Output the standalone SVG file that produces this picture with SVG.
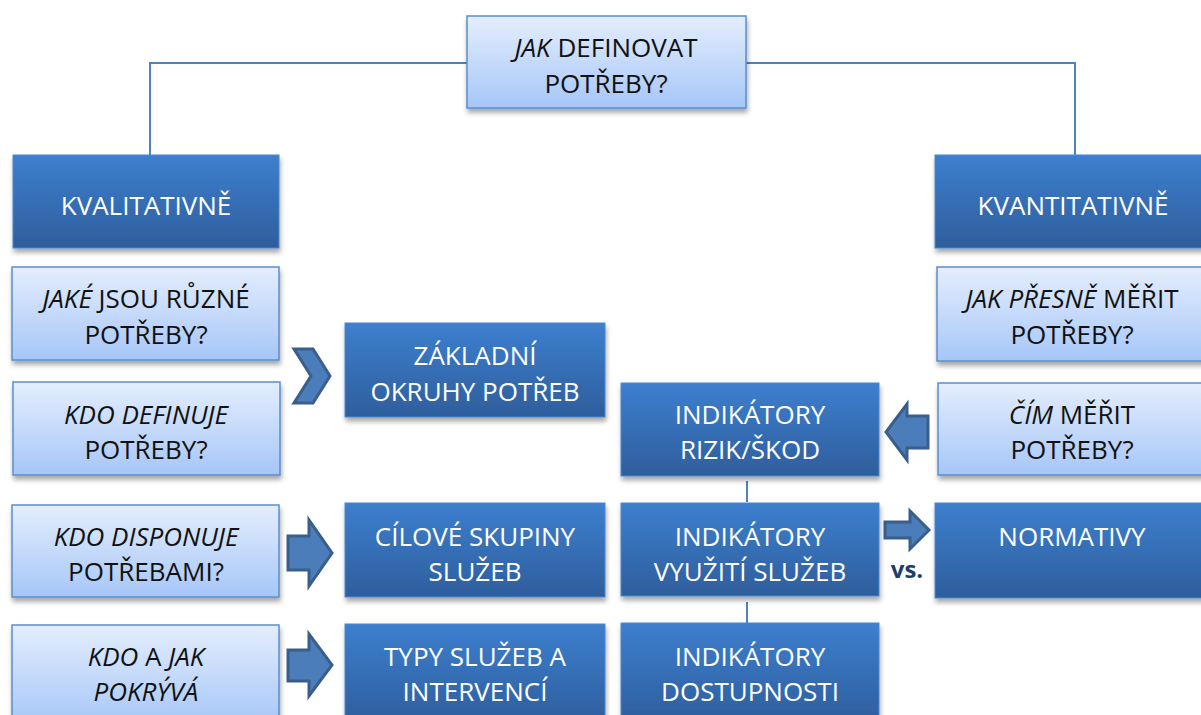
<svg xmlns="http://www.w3.org/2000/svg" width="1201" height="715" viewBox="0 0 1201 715">
<defs>
<linearGradient id="gDark" x1="0" y1="0" x2="0" y2="1">
<stop offset="0" stop-color="#3D7FCF"/>
<stop offset="1" stop-color="#2E5E9C"/>
</linearGradient>
<linearGradient id="gLight" x1="0" y1="0" x2="0" y2="1">
<stop offset="0" stop-color="#E4EEFD"/>
<stop offset="1" stop-color="#A6C6F8"/>
</linearGradient>
<filter id="sh" x="-10%" y="-10%" width="120%" height="130%">
<feGaussianBlur in="SourceAlpha" stdDeviation="2.5"/>
<feOffset dx="1" dy="4" result="b"/>
<feComponentTransfer><feFuncA type="linear" slope="0.35"/></feComponentTransfer>
<feMerge><feMergeNode/><feMergeNode in="SourceGraphic"/></feMerge>
</filter>
</defs>
<style>
.dark{fill:url(#gDark);stroke:#4A86D0;stroke-width:1;filter:url(#sh)}
.light{fill:url(#gLight);stroke:#5A8ECF;stroke-width:1.5;filter:url(#sh)}
text{font-family:"Open Sans","Noto Sans","Liberation Sans",sans-serif;font-size:26px;text-anchor:middle}
.tw{fill:#FFFFFF}
.tb{fill:#111111}
.i{font-style:italic}
.conn{fill:none;stroke:#4F81BD;stroke-width:2}
.arr{fill:#4A7DBA;stroke:#3A5E8C;stroke-width:3;stroke-linejoin:miter}
.vs{font-family:"Open Sans","Noto Sans","Liberation Sans",sans-serif;font-weight:bold;font-size:24px;fill:#1F3D6B}
</style>
<rect width="1201" height="715" fill="#FFFFFF"/>
<g id="connectors">
<polyline class="conn" points="467,63 150,63 150,155"/>
<polyline class="conn" points="746,63 1075,63 1075,155"/>
<line class="conn" x1="747" y1="481" x2="747" y2="502"/>
<line class="conn" x1="747" y1="602" x2="747" y2="623"/>
<path id="chevron" class="arr" d="M294,349 L313,349 L330,376 L313,403 L294,403 L311,376 Z"/>
<path id="arrow1" class="arr" d="M288,536 L309,536 L309,520 L332,553 L309,586 L309,570 L288,570 Z"/>
<path id="arrow2" class="arr" d="M288,650 L309,650 L309,634 L332,665 L309,696 L309,681 L288,681 Z"/>
<path id="arrow3" class="arr" d="M928,416 L907,416 L907,404 L886,432 L907,460 L907,448 L928,448 Z"/>
<path id="arrow4" class="arr" d="M885,522 L910,522 L910,511 L929,530 L910,549 L910,538 L885,538 Z"/>
</g>
<g id="n_top"><rect class="light" x="467" y="16" width="279" height="92"/><text class="tb" x="606" y="57"><tspan class="i">JAK</tspan> DEFINOVAT</text><text class="tb" x="606" y="93">POTŘEBY?</text></g>
<g id="n_kval"><rect class="dark" x="13" y="155" width="266" height="93"/><text class="tw" x="146" y="215">KVALITATIVNĚ</text></g>
<g id="n_kvant"><rect class="dark" x="935" y="155" width="270" height="93"/><text class="tw" x="1073" y="215">KVANTITATIVNĚ</text></g>
<g id="n_jake"><rect class="light" x="12" y="267" width="267" height="93"/><text class="tb" x="146" y="308"><tspan class="i">JAKÉ</tspan> JSOU RŮZNÉ</text><text class="tb" x="146" y="344">POTŘEBY?</text></g>
<g id="n_kdodef"><rect class="light" x="13" y="382" width="267" height="93"/><text class="tb" x="146" y="424"><tspan class="i">KDO DEFINUJE</tspan></text><text class="tb" x="146" y="459">POTŘEBY?</text></g>
<g id="n_kdodisp"><rect class="light" x="12" y="505" width="267" height="92"/><text class="tb" x="146" y="546"><tspan class="i">KDO DISPONUJE</tspan></text><text class="tb" x="146" y="581">POTŘEBAMI?</text></g>
<g id="n_kdojak"><rect class="light" x="12" y="625" width="267" height="100"/><text class="tb" x="146" y="666"><tspan class="i">KDO</tspan> A <tspan class="i">JAK</tspan></text><text class="tb i" x="146" y="701">POKRÝVÁ</text></g>
<g id="n_zakl"><rect class="dark" x="345" y="323" width="260" height="94"/><text class="tw" x="475" y="365">ZÁKLADNÍ</text><text class="tw" x="475" y="401">OKRUHY POTŘEB</text></g>
<g id="n_cil"><rect class="dark" x="345" y="503" width="260" height="94"/><text class="tw" x="475" y="546">CÍLOVÉ SKUPINY</text><text class="tw" x="475" y="581">SLUŽEB</text></g>
<g id="n_typy"><rect class="dark" x="345" y="624" width="260" height="100"/><text class="tw" x="475" y="666">TYPY SLUŽEB A</text><text class="tw" x="475" y="701">INTERVENCÍ</text></g>
<g id="n_rizik"><rect class="dark" x="621" y="383" width="258" height="93"/><text class="tw" x="750" y="424">INDIKÁTORY</text><text class="tw" x="750" y="459">RIZIK/ŠKOD</text></g>
<g id="n_vyuz"><rect class="dark" x="621" y="503" width="258" height="93"/><text class="tw" x="750" y="546">INDIKÁTORY</text><text class="tw" x="750" y="581">VYUŽITÍ SLUŽEB</text></g>
<g id="n_dost"><rect class="dark" x="621" y="623" width="258" height="100"/><text class="tw" x="750" y="666">INDIKÁTORY</text><text class="tw" x="750" y="701">DOSTUPNOSTI</text></g>
<g id="n_presne"><rect class="light" x="937" y="267" width="268" height="94"/><text class="tb" x="1072" y="308"><tspan class="i">JAK PŘESNĚ</tspan> MĚŘIT</text><text class="tb" x="1072" y="344">POTŘEBY?</text></g>
<g id="n_cim"><rect class="light" x="938" y="383" width="267" height="92"/><text class="tb" x="1072" y="424"><tspan class="i">ČÍM</tspan> MĚŘIT</text><text class="tb" x="1072" y="459">POTŘEBY?</text></g>
<g id="n_norm"><rect class="dark" x="935" y="503" width="270" height="95"/><text class="tw" x="1072" y="546">NORMATIVY</text></g>
<text class="vs" x="907" y="578">vs.</text>
</svg>
